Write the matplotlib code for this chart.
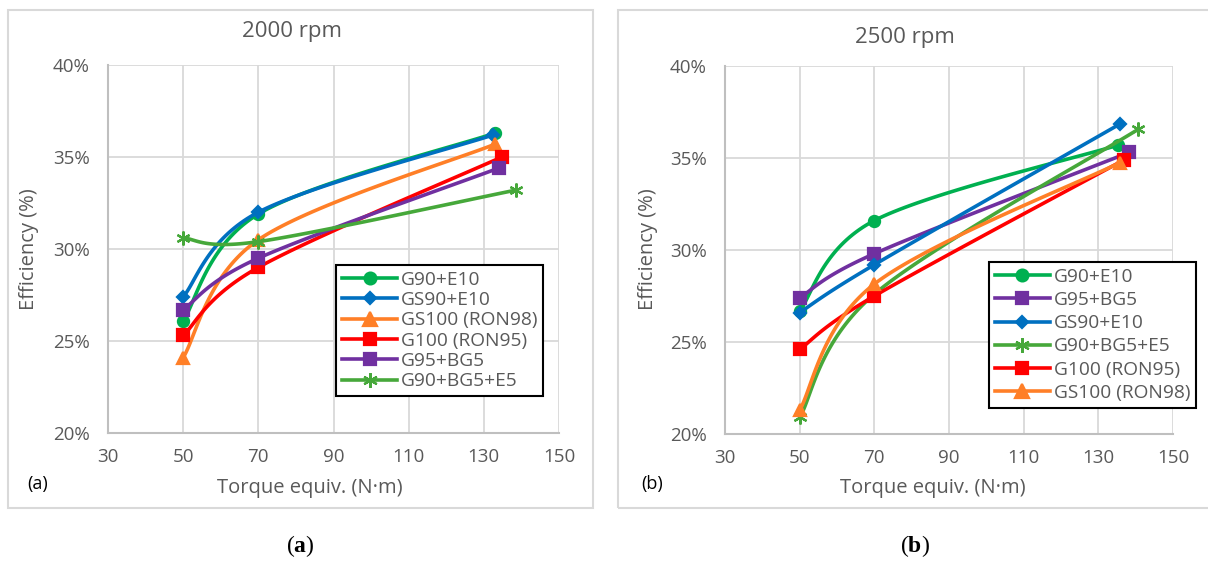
import numpy as np
import matplotlib
matplotlib.use("Agg")
import matplotlib.pyplot as plt
from matplotlib.lines import Line2D
from matplotlib.patches import Rectangle

plt.rcParams['font.family'] = ['Open Sans', 'DejaVu Sans']
plt.rcParams['mathtext.fontset'] = 'custom'
plt.rcParams['mathtext.rm'] = 'Liberation Serif'
plt.rcParams['mathtext.bf'] = 'Liberation Serif:bold'

# (a) 2000 rpm
a_names = ['G90+E10', 'GS90+E10', 'GS100 (RON98)', 'G100 (RON95)', 'G95+BG5', 'G90+BG5+E5']
a_torque = [[50, 70, 133.0], [50, 70, 132.5], [50, 70, 133.0],
            [50, 70, 134.8], [50, 70, 134.0], [50, 70, 138.5]]
a_eff = [[26.1, 31.9, 36.3], [27.4, 32.0, 36.2], [24.1, 30.5, 35.7],
         [25.3, 29.0, 35.0], [26.7, 29.5, 34.4], [30.6, 30.4, 33.2]]

# (b) 2500 rpm
b_names = ['G90+E10', 'G95+BG5', 'GS90+E10', 'G90+BG5+E5', 'G100 (RON95)', 'GS100 (RON98)']
b_torque = [[50, 70, 135.3], [50, 70, 138.2], [50, 70, 135.8],
            [50, 70, 140.6], [50, 70, 136.9], [50, 70, 135.8]]
b_eff = [[26.7, 31.6, 35.7], [27.4, 29.8, 35.3], [26.6, 29.2, 36.85],
         [20.9, 27.6, 36.55], [24.6, 27.5, 34.9], [21.3, 28.15, 34.75]]

x_ticks = [30, 50, 70, 90, 110, 130, 150]
y_ticks = [20, 25, 30, 35, 40]

# estilo de cada serie: cor, marcador, tamanho
styles = {
    'G90+E10': ('#00B050', 'o', 8),
    'GS90+E10': ('#0070C0', 'D', 6),
    'GS100 (RON98)': ('#FF7F27', '^', 9),
    'G100 (RON95)': ('#FF0000', 's', 8.5),
    'G95+BG5': ('#7030A0', 's', 8.5),
    'G90+BG5+E5': ('#46A83A', (6, 2, 0), 10),
}

GRAY = '#595959'
W, H = 1208, 563


# Curva suavizada tipo Excel (Bezier / Catmull-Rom) calculada em pixels
def smooth(ax, xs, ys, n=40):
    pts = ax.transData.transform(np.column_stack([xs, ys]))
    out = []
    for i in range(len(pts) - 1):
        p0 = pts[i - 1] if i > 0 else pts[i]
        p1 = pts[i]
        p2 = pts[i + 1]
        p3 = pts[i + 2] if i + 2 < len(pts) else pts[i + 1]
        c1 = p1 + (p2 - p0) / 6
        c2 = p2 - (p3 - p1) / 6
        t = np.linspace(0, 1, n)[:, None]
        seg = (1 - t) ** 3 * p1 + 3 * (1 - t) ** 2 * t * c1 + 3 * (1 - t) * t ** 2 * c2 + t ** 3 * p2
        out.append(seg)
    curve = ax.transData.inverted().transform(np.vstack(out))
    return curve[:, 0], curve[:, 1]


def make_panel(fig, rect, names, torque, eff, title, title_xy, leg_anchor, leg_space,
               ylab_x, xlab_x, tag_x, frame_x, caption, caption_x):
    ax = fig.add_axes(rect)
    ax.set_xlim(30, 150)
    ax.set_ylim(20, 40)
    ax.set_xticks(x_ticks)
    ax.set_yticks(y_ticks)
    ax.set_yticklabels([str(v) + '%' for v in y_ticks])
    ax.grid(True, color='#D9D9D9', lw=1.3)
    ax.set_axisbelow(True)
    for s in ['top', 'right']:
        ax.spines[s].set_visible(False)
    for s in ['left', 'bottom']:
        ax.spines[s].set_color('#BFBFBF')
        ax.spines[s].set_linewidth(1.5)
    ax.tick_params(length=0, labelsize=13.5, labelcolor=GRAY)
    ax.tick_params(axis='y', pad=13)
    ax.tick_params(axis='x', pad=11)

    handles = []
    for name, xs, ys in zip(names, torque, eff):
        color, mk, ms = styles[name]
        sx, sy = smooth(ax, xs, ys)
        ax.plot(sx, sy, color=color, lw=2.6, solid_capstyle='round', clip_on=False)
        ax.plot(xs, ys, ls='none', marker=mk, ms=ms, color=color, mec=color, mew=1.6, clip_on=False)
        handles.append(Line2D([], [], color=color, lw=2.6, marker=mk, ms=ms + 0.5, mec=color, mew=1.6))

    leg = ax.legend(handles, names, loc='upper left', bbox_to_anchor=leg_anchor,
                    borderaxespad=0, fontsize=13.8, handlelength=2.9, handletextpad=0.2,
                    labelspacing=leg_space, borderpad=0.3, fancybox=False, framealpha=1)
    leg.get_frame().set_edgecolor('black')
    leg.get_frame().set_linewidth(1.5)
    for t in leg.get_texts():
        t.set_color(GRAY)

    fig.text(title_xy[0] / W, 1 - title_xy[1] / H, title, fontsize=16, color=GRAY,
             ha='center', va='center')
    fig.text(ylab_x / W, 1 - 249 / H, 'Efficiency (%)', fontsize=14.5, color=GRAY,
             rotation=90, ha='center', va='center')
    fig.text(xlab_x / W, 1 - 488 / H, 'Torque equiv. (N·m)', fontsize=14.5, color=GRAY,
             ha='center', va='center')
    fig.text(tag_x / W, 1 - 484 / H, '(' + caption + ')', fontsize=13, color='black',
             ha='center', va='center')
    fig.add_artist(Rectangle((frame_x[0] / W, 1 - 508 / H), (frame_x[1] - frame_x[0]) / W, 498 / H,
                             transform=fig.transFigure, fill=False, edgecolor='#D9D9D9', lw=1.5))
    fig.text(caption_x / W, 1 - 546 / H, r'($\mathbf{' + caption + '}$)', fontsize=17,
             family='Liberation Serif', ha='center', va='center')
    return ax


fig = plt.figure(figsize=(W / 100, H / 100), dpi=100)

make_panel(fig, [108 / W, (H - 433) / H, 451 / W, 368 / H], a_names, a_torque, a_eff,
           '2000 rpm', (292, 32), (0.5055, 0.4565), 0.12, 29, 310, 38, (8, 593), 'a', 300)
make_panel(fig, [725 / W, (H - 434) / H, 448 / W, 368 / H], b_names, b_torque, b_eff,
           '2500 rpm', (905, 37), (0.589, 0.467), 0.27, 648, 933, 652, (618, 1215), 'b', 915)

fig.savefig('out.png', dpi=100)
